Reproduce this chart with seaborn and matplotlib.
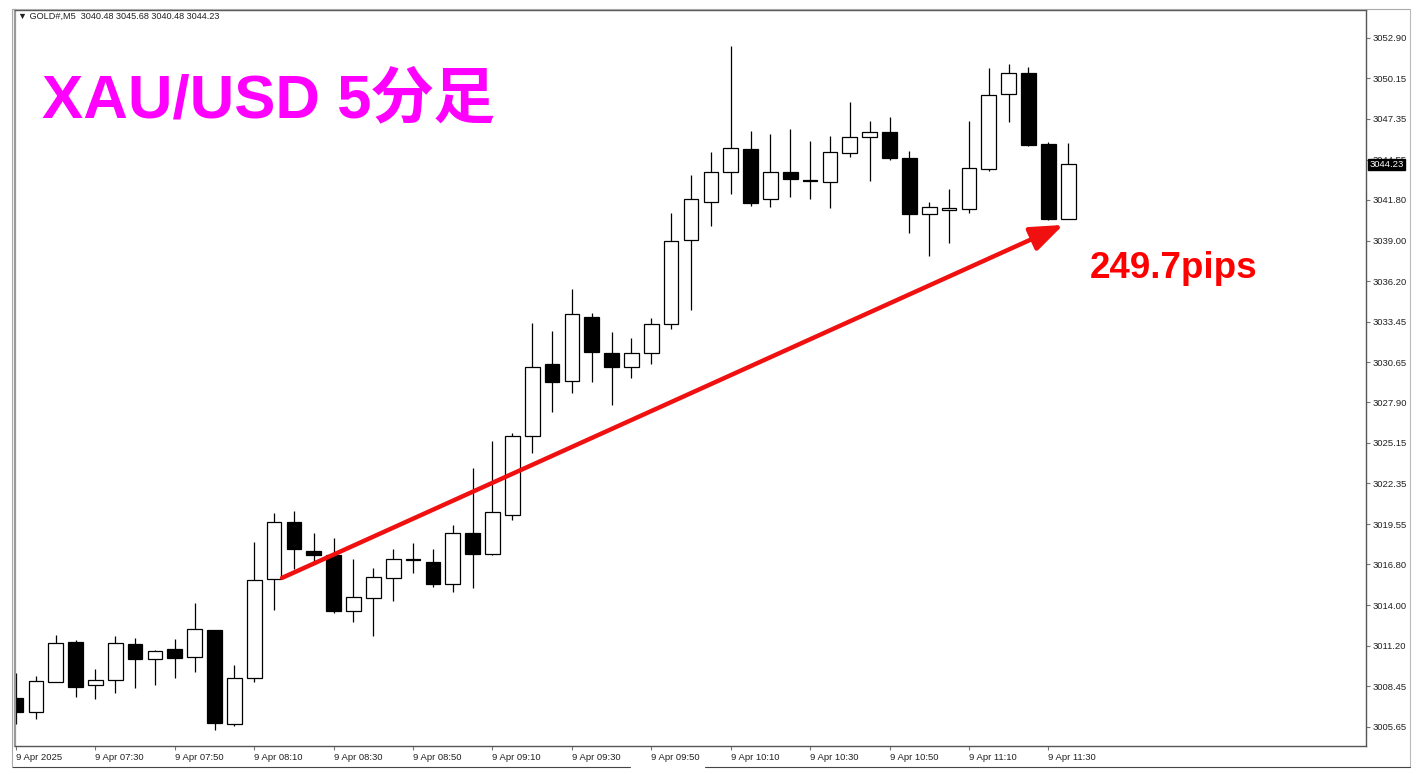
import numpy as np
import pandas as pd
import matplotlib.pyplot as plt
import seaborn as sns
from matplotlib.lines import Line2D
from matplotlib.transforms import blended_transform_factory

# XAU/USD 5 minute candles, 9 Apr 2025 07:10 - 11:35
opens = [3007.64, 3006.68, 3008.73, 3011.48, 3008.53, 3008.87, 3011.34, 3010.31, 3011.00, 3010.45,
         3012.30, 3005.86, 3009.01, 3015.80, 3019.71, 3017.72, 3017.44, 3013.60, 3014.50, 3015.87,
         3017.17, 3016.96, 3015.46, 3018.95, 3017.51, 3020.19, 3025.61, 3030.54, 3029.38, 3033.77,
         3031.30, 3030.34, 3031.30, 3033.29, 3039.05, 3041.65, 3043.71, 3045.29, 3041.86, 3043.71,
         3043.16, 3043.02, 3045.01, 3046.11, 3046.45, 3044.67, 3040.83, 3041.10, 3041.17, 3043.92,
         3049.06, 3050.50, 3045.63, 3040.48]
highs = [3009.35, 3009.15, 3011.96, 3011.62, 3009.63, 3011.89, 3011.75, 3010.93, 3011.68, 3014.15,
         3012.30, 3009.90, 3018.34, 3020.33, 3020.46, 3018.95, 3018.61, 3017.17, 3016.55, 3017.86,
         3018.27, 3017.86, 3019.50, 3023.41, 3025.26, 3025.81, 3033.35, 3032.81, 3035.69, 3034.04,
         3032.74, 3032.33, 3033.70, 3040.90, 3043.50, 3045.08, 3052.35, 3046.52, 3046.32, 3046.66,
         3045.84, 3046.18, 3048.51, 3047.21, 3047.48, 3045.15, 3041.65, 3042.54, 3047.21, 3050.84,
         3051.12, 3050.91, 3045.77, 3045.68]
lows = [3005.86, 3006.20, 3008.70, 3007.71, 3007.57, 3007.98, 3008.32, 3008.53, 3009.01, 3009.42,
        3005.45, 3005.72, 3008.73, 3013.67, 3016.48, 3016.90, 3013.47, 3012.85, 3011.89, 3014.29,
        3016.21, 3015.25, 3014.91, 3015.18, 3017.44, 3019.85, 3024.44, 3027.25, 3028.55, 3029.31,
        3027.73, 3029.58, 3030.54, 3032.94, 3034.25, 3040.01, 3042.20, 3041.38, 3041.31, 3042.00,
        3041.86, 3041.24, 3044.74, 3043.09, 3044.53, 3039.53, 3037.95, 3038.84, 3040.90, 3043.78,
        3047.14, 3045.49, 3040.45, 3040.48]
closes = [3006.68, 3008.80, 3011.41, 3008.39, 3008.87, 3011.41, 3010.31, 3010.86, 3010.38, 3012.37,
          3005.93, 3009.01, 3015.73, 3019.71, 3017.86, 3017.44, 3013.60, 3014.56, 3015.94, 3017.17,
          3017.10, 3015.46, 3018.95, 3017.51, 3020.39, 3025.61, 3030.34, 3029.31, 3033.97, 3031.37,
          3030.34, 3031.30, 3033.29, 3038.98, 3041.86, 3043.71, 3045.36, 3041.58, 3043.71, 3043.23,
          3043.09, 3045.08, 3046.11, 3046.45, 3044.67, 3040.83, 3041.31, 3041.24, 3043.98, 3048.99,
          3050.50, 3045.56, 3040.48, 3044.23]

time_labels = ["9 Apr 2025", "9 Apr 07:30", "9 Apr 07:50", "9 Apr 08:10", "9 Apr 08:30",
               "9 Apr 08:50", "9 Apr 09:10", "9 Apr 09:30", "9 Apr 09:50", "9 Apr 10:10",
               "9 Apr 10:30", "9 Apr 10:50", "9 Apr 11:10", "9 Apr 11:30"]
price_ticks = [3052.90, 3050.15, 3047.35, 3044.55, 3041.80, 3039.00, 3036.20, 3033.45, 3030.65,
               3027.90, 3025.15, 3022.35, 3019.55, 3016.80, 3014.00, 3011.20, 3008.45, 3005.65]
header = "\u25bc GOLD#,M5  3040.48 3045.68 3040.48 3044.23"
last_price = 3044.23
title_text = "XAU/USD 5分足"
pips_text = "249.7pips"
# arrow drawn on the chart: (bar index, price)
arrow_start = (13.4, 3015.87)
arrow_end = (52.75, 3040.08)

sns.set_theme(style="white")
plt.rcParams["font.family"] = ["Liberation Sans", "DejaVu Sans", "Noto Sans CJK JP"]

candles = pd.DataFrame({"open": opens, "high": highs, "low": lows, "close": closes})
candles["bar"] = np.arange(len(candles))
candles["up"] = candles["close"] >= candles["open"]
candles["body_low"] = candles[["open", "close"]].min(axis=1)
candles["body_h"] = (candles["close"] - candles["open"]).abs().clip(lower=0.03)

fig = plt.figure(figsize=(14.16, 7.74), dpi=100)
ax = fig.add_axes([15 / 1416, 1 - 746 / 774, (1366 - 15) / 1416, (746 - 10) / 774])

# wicks then bodies
ax.vlines(candles["bar"], candles["low"], candles["high"], color="black", lw=0.9, zorder=1)
ax.bar(candles["bar"], candles["body_h"], bottom=candles["body_low"], width=0.74,
       color=np.where(candles["up"], "white", "black"), edgecolor="black", lw=0.9, zorder=2)

ax.set_xlim(-0.05, 68.0)
ax.set_ylim(3004.34, 3054.82)

ax.yaxis.tick_right()
ax.set_yticks(price_ticks)
ax.set_yticklabels([f"{p:.2f}" for p in price_ticks])
ax.set_xticks(np.arange(0, len(candles), 4))
ax.set_xticklabels(time_labels, ha="left")
ax.tick_params(axis="both", direction="out", length=3, width=0.8, color="#777777",
               labelsize=6.8, labelcolor="#222222")
ax.tick_params(axis="y", pad=2)
ax.tick_params(axis="x", pad=2)
ax.tick_params(axis="y", which="both", right=True, left=False)
ax.tick_params(axis="x", which="both", bottom=True)
for side in ["left", "right", "top", "bottom"]:
    ax.spines[side].set_color("#555555")
    ax.spines[side].set_linewidth(1.0)
ax.spines["left"].set_color("#999999")
ax.spines["left"].set_linewidth(1.6)

# current price label, drawn over the 3044.55 tick label as in the terminal
trans = blended_transform_factory(ax.transAxes, ax.transData)
ax.text(1.0025, last_price, f"{last_price:.2f}", transform=trans, fontsize=6.8, color="white",
        va="center", ha="left", zorder=5,
        bbox=dict(boxstyle="square,pad=0.12", fc="black", ec="black"))

# header text inside chart
fig.text(18 / 1416, 1 - 16 / 774, header, fontsize=6.6, color="#222222", va="center", ha="left")

# titles
ax.text(0.02, 0.876, title_text, transform=ax.transAxes, fontsize=44.5, fontweight="bold",
        color="#ff00ff", va="center", ha="left", family=["Liberation Sans", "Noto Sans CJK JP"])
fig.text(1090 / 1416, 1 - 268 / 774, pips_text, fontsize=26.5, fontweight="bold", color="#ff0000",
         va="center", ha="left", family=["Liberation Sans", "DejaVu Sans"])

ax.annotate("", xy=arrow_end, xytext=arrow_start,
            arrowprops=dict(arrowstyle="-|>,head_length=1.0,head_width=0.38", color="#f01010",
                            lw=3.2, mutation_scale=20, shrinkA=0, shrinkB=0), zorder=4)

# outer window frame
fig.add_artist(Line2D([12 / 1416, 1410 / 1416], [1 - 9 / 774, 1 - 9 / 774], color="#aaaaaa", lw=0.8))
fig.add_artist(Line2D([1410 / 1416, 1410 / 1416], [1 - 9 / 774, 1 - 767 / 774], color="#bbbbbb", lw=0.8))
fig.add_artist(Line2D([12 / 1416, 630 / 1416], [1 - 767 / 774, 1 - 767 / 774], color="#444444", lw=0.8))
fig.add_artist(Line2D([705 / 1416, 1410 / 1416], [1 - 767 / 774, 1 - 767 / 774], color="#444444", lw=0.8))
fig.add_artist(Line2D([12 / 1416, 12 / 1416], [1 - 9 / 774, 1 - 767 / 774], color="#aaaaaa", lw=0.8))

fig.savefig("out.png", dpi=100)
